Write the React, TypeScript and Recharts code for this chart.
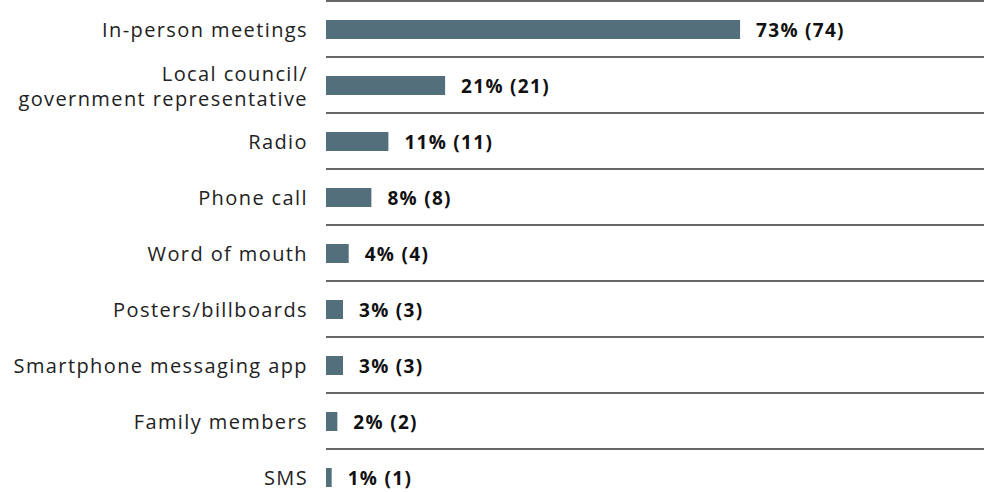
import { BarChart, Bar, XAxis, YAxis, LabelList } from "recharts"

const categories = [
  "In-person meetings",
  "Local council/\ngovernment representative",
  "Radio",
  "Phone call",
  "Word of mouth",
  "Posters/billboards",
  "Smartphone messaging app",
  "Family members",
  "SMS",
]
const percents = [73, 21, 11, 8, 4, 3, 3, 2, 1]
const counts = [74, 21, 11, 8, 4, 3, 3, 2, 1]

const data = categories.map((name, i) => ({ name, pct: percents[i], count: counts[i] }))

const FONT = "'Open Sans', Lato, sans-serif"
const CHART_W = 984
const TICK_GAP = 12

// category label plus the separator line along the top edge of its band
function CategoryTick({ x, y, payload }: any) {
  const lines = String(payload.value).split("\n")
  const lh = 25
  const tx = x - 6
  const y0 = y - ((lines.length - 1) * lh) / 2
  const half = payload.offset ?? 28
  const top = y - half
  return (
    <g>
      <line x1={x + TICK_GAP} x2={CHART_W} y1={top} y2={top} stroke="#333" strokeWidth={1.4} />
      <text
        x={tx}
        y={y0}
        textAnchor="end"
        fill="#222"
        fontSize={20}
        letterSpacing={1.4}
        fontFamily={FONT}
        dominantBaseline="central"
      >
        {lines.map((l, i) => (
          <tspan key={i} x={tx} y={y0 + i * lh}>
            {l}
          </tspan>
        ))}
      </text>
    </g>
  )
}

export default function App() {
  return (
    <div style={{ position: "absolute", left: 0, top: 0 }}>
      <BarChart
        width={CHART_W}
        height={506}
        data={data}
        layout="vertical"
        margin={{ top: 1, right: 0, bottom: 1, left: 0 }}
      >
        <XAxis type="number" domain={[0, 116]} hide />
        <YAxis
          type="category"
          dataKey="name"
          width={326}
          axisLine={false}
          tickLine={false}
          tickSize={0}
          tickMargin={TICK_GAP}
          interval={0}
          tick={<CategoryTick />}
        />
        <Bar dataKey="pct" fill="#536f7b" barSize={19} isAnimationActive={false}>
          <LabelList
            dataKey="pct"
            content={(p: any) => {
              const d = data[p.index]
              return (
                <text
                  x={p.x + p.width + 16}
                  y={p.y + p.height / 2}
                  dominantBaseline="central"
                  fontSize={19}
                  fontWeight={700}
                  letterSpacing={1.3}
                  fontFamily={FONT}
                  fill="#111"
                >
                  {`${d.pct}% (${d.count})`}
                </text>
              )
            }}
          />
        </Bar>
      </BarChart>
    </div>
  )
}
